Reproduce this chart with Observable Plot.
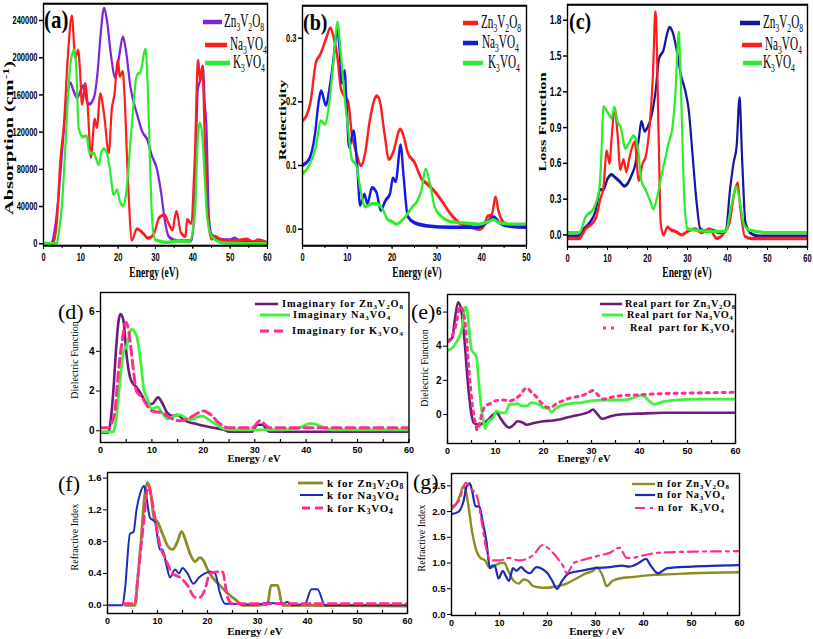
<!DOCTYPE html>
<html><head><meta charset="utf-8">
<script src="https://cdn.jsdelivr.net/npm/d3@7"></script>
<script src="https://cdn.jsdelivr.net/npm/@observablehq/plot@0.6"></script>
<style>
body{margin:0;background:#fff;}
#fig{position:relative;width:813px;height:639px;overflow:hidden;background:#fff;}
.t{position:absolute;white-space:nowrap;line-height:1;color:#000;}
.t sub{font-size:68%;vertical-align:-0.3em;line-height:0;}
.t sup{font-size:68%;vertical-align:0.5em;line-height:0;}
</style></head><body><div id="fig"></div><script>
// ---------- data: [energy (eV), value] ----------
const absZn = [[0,0],[2,0],[3,15000],[4,50000],[5,100000],[6,145000],[7.2,173000],[8,165000],[9,157000],[10,165000],[10.6,170000],[11.5,155000],[12.2,150000],[13.5,157000],[14.5,185000],[15.3,225000],[16.2,253000],[17,240000],[18,205000],[19.2,179000],[20,195000],[21.3,222000],[22,210000],[23.3,168000],[25,140000],[26.5,120000],[27.8,112000],[29,95000],[30.4,80000],[31.5,55000],[32.5,25000],[33.5,8000],[35,4000],[37,3000],[39.5,3000],[40.5,40000],[41.3,165000],[41.9,175000],[42.7,191000],[43.2,150000],[43.6,130000],[44.3,30000],[45,10000],[47,5000],[50,4000],[51.2,6000],[52.5,3000],[56,2000],[60,1000]];
const absNa = [[0,0],[2.5,0],[3.5,20000],[4.5,89000],[5.5,130000],[6.5,200000],[7.6,245000],[8.5,200000],[9.3,208000],[9.8,185000],[10.3,150000],[11.2,172000],[11.8,150000],[12.7,93000],[13.7,134000],[14.3,125000],[15.2,161000],[16.2,140000],[17.5,98000],[18.3,145000],[19,160000],[19.9,197000],[20.5,180000],[21.2,185000],[21.7,160000],[22.5,80000],[23.7,4000],[25,16000],[26.5,12000],[28,6000],[29.5,10000],[31,28000],[32.4,31000],[33.5,22000],[34.5,15000],[35.6,34500],[36.8,12000],[38,8000],[38.5,26000],[39.5,22000],[40.5,90000],[41.4,197000],[42,175000],[42.5,190000],[43.3,100000],[44,30000],[45,5000],[46,8000],[48,3000],[51,3000],[54.5,5000],[56,2000],[57.5,4000],[60,1000]];
const absK = [[0,0],[3.5,0],[4.2,15000],[4.9,39000],[5.8,100000],[6.8,175000],[8.1,208000],[8.7,195000],[9.4,125000],[10.5,115000],[11.5,116000],[12.3,98000],[13.5,97000],[14.8,85000],[15.5,98000],[16.1,102000],[17,97000],[17.8,80000],[18.8,53000],[19.7,58000],[20.5,45000],[21.3,41000],[22,50000],[23.5,120000],[25,181000],[26,185000],[27.3,209000],[28,160000],[28.5,90000],[29.2,20000],[30,4000],[31,3000],[33,1500],[36,3000],[39,2000],[40.5,30000],[41.3,110000],[41.9,130000],[42.5,118000],[43.2,70000],[43.8,30000],[45,8000],[48,1000],[60,0]];

const reflZn = [[0,0.17],[1,0.18],[1.8,0.2],[3,0.262],[4,0.275],[5.3,0.3],[6.2,0.316],[7,0.3],[7.8,0.27],[8.6,0.22],[9.4,0.209],[10.2,0.2],[11,0.15],[12,0.12],[13.1,0.1],[14,0.12],[15,0.17],[16.6,0.209],[17.3,0.2],[18.3,0.15],[19.3,0.11],[20.2,0.12],[21.8,0.157],[22.4,0.15],[23.5,0.12],[25,0.105],[26.5,0.08],[28,0.07],[30,0.055],[31.5,0.04],[33.5,0.02],[35,0.01],[37,0.005],[39.5,0],[40.5,0.005],[41.3,0.02],[42.2,0.022],[43.1,0.05],[43.7,0.03],[45,0.01],[47,0.005],[50,0.003]];
const reflNa = [[0,0.1],[1.5,0.11],[2.8,0.15],[3.6,0.2],[4.2,0.217],[5.2,0.195],[6,0.22],[6.8,0.26],[7.8,0.314],[8.3,0.28],[8.8,0.23],[9.4,0.249],[9.8,0.2],[10.4,0.129],[11.4,0.154],[12.2,0.1],[12.85,0.038],[13.8,0.055],[14.5,0.04],[15.5,0.065],[16.5,0.058],[17.5,0.03],[18.5,0.045],[19.5,0.055],[20.2,0.08],[20.8,0.075],[21.9,0.132],[22.6,0.08],[23.5,0.02],[25,0.01],[28,0.005],[33,0.003],[39,0.003],[41,0.01],[42.7,0.019],[44,0.01],[46,0.005],[50,0.003]];
const reflK = [[0,0.087],[1.5,0.1],[3,0.13],[4.1,0.17],[5,0.165],[6,0.2],[7,0.27],[7.8,0.325],[8.5,0.28],[9.5,0.2],[10.3,0.15],[11,0.11],[12,0.1],[13,0.06],[14,0.035],[15.5,0.04],[16.5,0.04],[18,0.03],[19,0.015],[20,0.012],[21,0.008],[23,0.02],[24.5,0.035],[25.7,0.045],[26.5,0.06],[27.5,0.094],[28.5,0.07],[29.5,0.035],[31,0.02],[33,0.012],[36,0.01],[39.5,0.008],[41.5,0.012],[42.5,0.015],[44,0.01],[47,0.008],[50,0.008]];

const lossZn = [[0,-0.01],[2.5,-0.01],[4,0.05],[5.5,0.1],[7,0.2],[8.2,0.38],[9,0.38],[10,0.47],[11,0.505],[12,0.48],[13,0.45],[14.2,0.41],[15,0.43],[16,0.5],[17,0.6],[17.8,0.8],[18.5,0.95],[19.3,0.87],[20,0.9],[21,1.0],[22,1.2],[22.9,1.48],[24,1.55],[25,1.7],[25.5,1.74],[26.3,1.7],[27.3,1.55],[28.3,1.35],[29.5,1.2],[30.3,1.05],[31.2,0.7],[32.2,0.3],[33.2,0.05],[34.5,0.03],[36,0.04],[38,0.02],[39.5,0.03],[40.7,0.4],[41.5,0.6],[42.3,0.75],[43,1.15],[43.7,0.6],[44.5,0.1],[46,0.01],[48,-0.01],[60,-0.01]];
const lossNa = [[0,-0.03],[3,-0.03],[4.5,0.05],[6,0.09],[7.2,0.15],[8.2,0.3],[9,0.4],[9.8,0.705],[10.5,0.6],[11,0.8],[11.8,1.06],[12.5,0.85],[13.2,0.55],[14,0.632],[14.7,0.53],[15.5,0.65],[16.3,0.75],[16.8,0.78],[17.8,0.458],[18.8,0.6],[19.5,0.65],[20.5,0.9],[21.3,1.3],[22,1.87],[22.8,0.8],[23.3,0.1],[24,0],[25,0.065],[26,0.04],[27,0.03],[28.5,0],[30,0.03],[32,0.05],[33.5,0.02],[35.5,0.05],[37.3,-0.03],[39,0.01],[40.5,0.1],[41.7,0.35],[42.5,0.435],[43.3,0.2],[44.3,-0.01],[46,-0.03],[60,-0.03]];
const lossK = [[0,0.02],[3,0.02],[4.5,0.15],[6.5,0.22],[8,0.4],[8.5,0.7],[9,1.076],[10,1.03],[11,0.98],[11.7,1.07],[12.5,0.95],[13.3,0.9],[14.5,0.725],[15.5,0.78],[16.5,0.83],[17.5,0.75],[18.5,0.45],[19.5,0.38],[20.5,0.3],[21.5,0.219],[22.3,0.3],[23.5,0.5],[24.5,0.65],[25.5,0.8],[26,0.85],[27,1.2],[27.8,1.7],[28.3,1.3],[29.2,0.3],[30,0.05],[32,0.04],[36,0.03],[39.5,0.03],[41,0.25],[42.2,0.4],[43,0.3],[44,0.1],[45.5,0.04],[50,0.02],[60,0.02]];

const imagZn = [[0,-0.1],[1.5,-0.1],[1.8,0.2],[2.5,2],[3,4],[3.5,5.5],[3.9,5.87],[4.5,5.5],[5,4],[5.5,3],[6,2.5],[7,2.2],[8,1.8],[9,1.4],[10,1.35],[11.2,1.68],[12,1.4],[13,0.9],[14,0.75],[15,0.8],[16,0.6],[17,0.45],[18.5,0.35],[20,0.25],[22,0.15],[24,0.05],[25,-0.05],[29.5,-0.05],[30.5,0.3],[31.5,0.3],[32.5,0],[33,-0.05],[60,-0.05]];
const imagNa = [[0,-0.05],[2.5,-0.05],[3,0.5],[3.8,2.5],[4.5,4],[5,4.2],[6,5.11],[7,4.8],[7.8,3.5],[8.5,2],[9,1.7],[10,1.1],[11,1.2],[12,0.9],[13,0.6],[14.5,0.75],[15.5,0.8],[16.5,0.65],[17.5,0.55],[19,0.7],[19.8,0.75],[21,0.55],[22,0.4],[24,0.1],[26,0.05],[30,0.05],[35,0.05],[38,0.1],[41,0.37],[43,0.2],[45,0.05],[60,0.05]];
const imagK = [[0,0.15],[1.5,0.15],[2,0.3],[2.8,1],[3.5,3],[4.2,4.5],[5,5.45],[5.5,5],[6.2,3.5],[7,2],[8,1.7],[9,1.3],[10,1.0],[12,0.9],[14,0.6],[15.5,0.5],[17,0.6],[19,0.9],[20,1.0],[21.5,0.8],[23,0.4],[25,0.15],[29.5,0.15],[31,0.5],[32.5,0.2],[33,0.15],[60,0.15]];

const realZn = [[0,4.25],[1,4.5],[1.5,5.5],[2.2,6.58],[2.8,6.2],[3.5,4.5],[4.2,2],[5,0],[5.5,-0.5],[6.5,-0.6],[7.5,-0.5],[8.5,-0.3],[9.5,0],[10.3,0.1],[11,-0.2],[12,-0.6],[12.8,-0.78],[13.8,-0.6],[14.6,-0.4],[15.5,-0.45],[16.5,-0.6],[18,-0.5],[20,-0.4],[22,-0.35],[24,-0.25],[26,-0.1],[28.5,0.05],[29.5,0.15],[30.3,0.29],[31,0.1],[32.2,-0.25],[34,-0.1],[36,0],[40,0.05],[45,0.1],[60,0.1]];
const realNa = [[0,3.76],[1,3.9],[2,4.3],[3,5],[3.7,6.29],[4,6.2],[4.5,5],[5,3.8],[5.5,3.6],[6,3.4],[6.5,2],[7,0.5],[7.5,-0.4],[7.8,-0.82],[8.5,-0.4],[9.5,-0.2],[10.2,0.2],[11,0.1],[12,0.1],[13,0.6],[14,0.6],[14.5,0.65],[15.5,0.5],[16.5,0.5],[17.5,0.7],[19,0.6],[20,0.4],[21,0.35],[21.7,0.15],[22.5,0.35],[24,0.55],[26,0.65],[28,0.7],[30,0.8],[33,0.85],[37,0.85],[39,1.0],[40.5,1.13],[42,0.8],[43,0.6],[45,0.75],[48,0.85],[52,0.9],[60,0.9]];
const realK = [[0,4.3],[1,4.6],[1.8,5.3],[2.6,6.33],[3.2,6.1],[3.8,5],[4.5,2.5],[5.2,0.5],[5.8,-0.5],[6.2,-0.92],[6.7,-0.5],[7.3,0.2],[8,0.5],[9,0.65],[10,0.8],[11.5,0.85],[13,0.8],[14,0.9],[15,1.1],[16.5,1.56],[17.5,1.3],[18.3,1.1],[19.5,0.7],[20.5,0.45],[21.5,0.4],[22.5,0.6],[24,0.8],[26,1.0],[28,1.1],[29.5,1.3],[30.3,1.4],[31.5,1.1],[32.5,0.9],[34,1.0],[36,1.1],[40,1.15],[43,1.2],[50,1.25],[60,1.3]];

const kZn = [[3.5,0],[5.5,0],[6,0.3],[6.7,0.8],[7.3,1.3],[8,1.545],[8.7,1.4],[9.3,1.1],[10,1.05],[11,0.9],[12,0.75],[13,0.7],[14,0.8],[14.8,0.93],[15.7,0.8],[16.5,0.65],[17.5,0.55],[18.5,0.6],[19.3,0.55],[20,0.45],[21,0.35],[22.5,0.25],[24,0.15],[26,0.05],[27,0],[30,0],[32,0.01],[32.7,0.25],[34,0.25],[35,0],[60,-0.01]];
const kNa = [[0,0],[3,0],[3.5,0.2],[4.5,0.9],[5.2,0.92],[5.8,1.2],[6.5,1.4],[7.3,1.5],[7.8,1.35],[8.5,1.1],[9.5,1.05],[10,0.85],[10.5,0.7],[11,0.7],[11.8,0.5],[12.5,0.35],[13.5,0.45],[14.3,0.4],[15,0.47],[16,0.4],[17.2,0.27],[18.3,0.35],[19.5,0.4],[20.5,0.42],[21.5,0.4],[22.5,0.15],[23.5,0.02],[25,0.02],[27,0.01],[30,0.01],[32,0.03],[35,0.02],[36,0.04],[37,0],[39.5,0.02],[40.8,0.2],[42,0.2],[43.5,0],[60,0]];
const kK = [[3.3,0.02],[5.5,0.02],[6,0.3],[7,0.9],[8.2,1.5],[8.8,1.35],[9.5,1.1],[10.5,0.75],[11.5,0.6],[13,0.4],[14.5,0.35],[16,0.25],[17.5,0.1],[18.5,0.1],[19.5,0.2],[20.5,0.4],[22,0.42],[23,0.42],[24,0.1],[25,0.02],[60,0.02]];

const nZn = [[0,2.05],[1,2.15],[1.7,2.3],[2.5,2.5],[3,2.4],[3.7,2.0],[4.3,1.6],[5,1.3],[6,1.1],[7,1.05],[8,0.9],[9,0.95],[10.3,1.0],[11,1.0],[11.8,0.85],[13,0.65],[14,0.6],[15,0.68],[16,0.65],[17,0.55],[19,0.52],[20,0.52],[22,0.55],[24,0.6],[26,0.7],[28,0.8],[29.5,0.85],[30.2,0.92],[31.5,0.75],[32.3,0.55],[33.5,0.65],[35,0.7],[38,0.73],[42,0.77],[45,0.78],[50,0.8],[60,0.82]];
const nNa = [[0,1.95],[1.5,2.0],[2.5,2.2],[3.2,2.5],[3.8,2.55],[4.3,2.4],[5,2.1],[5.8,2.1],[6.5,1.8],[7.3,1.4],[8,0.9],[8.5,0.95],[9,0.95],[9.8,0.7],[10.7,0.85],[11.3,0.75],[12,0.65],[12.8,0.9],[13.5,0.85],[14.5,0.92],[15.3,0.85],[16.3,0.8],[17.7,0.92],[19,0.88],[20,0.8],[21,0.65],[22,0.5],[23,0.65],[24.5,0.8],[27,0.85],[30,0.9],[33,0.92],[35.5,0.95],[37,0.93],[39,1.0],[40.5,1.08],[41.5,0.95],[43,0.8],[45,0.9],[50,0.93],[60,0.96]];
const nK = [[0,2.1],[1.5,2.2],[3,2.56],[4,2.45],[5.3,2.3],[6.3,1.8],[7.2,1.3],[8.2,1.05],[10,1.05],[12,1.1],[14,1.05],[17,1.15],[19,1.35],[20,1.3],[22,1.1],[23.5,0.9],[24,0.8],[25.5,1.0],[27,1.05],[31,1.15],[33,1.2],[35,1.3],[36.5,1.1],[37.5,1.1],[40,1.15],[43,1.2],[50,1.22],[60,1.23]];

// tick values
const xTicks60 = [0,10,20,30,40,50,60];
const xTicks50 = [0,10,20,30,40,50];
const absTicks = [0,40000,80000,120000,160000,200000,240000];
const reflTicks = [0,0.1,0.2,0.3];
const lossTicks = [0,0.3,0.6,0.9,1.2,1.5,1.8];
const dielTicks = [0,2,4,6];
const kTicks = [0,0.4,0.8,1.2,1.6];
const nTicks = [0,0.5,1.0,1.5,2.0,2.5];

// ---------- drawing ----------
const fig = document.getElementById("fig");
const SERIF = '"Liberation Serif","Times New Roman",serif';
const SANS = '"Liberation Sans",Arial,sans-serif';

function addText(html, x, y, o = {}) {
  const d = document.createElement("div");
  d.className = "t";
  d.innerHTML = html;
  d.style.left = x + "px"; d.style.top = y + "px";
  d.style.fontSize = (o.size || 11) + "px";
  d.style.fontWeight = o.weight || "bold";
  d.style.fontFamily = o.family || SERIF;
  if (o.ls) d.style.letterSpacing = o.ls + "px";
  const sy = o.sy || 1;
  if (o.left) d.style.transform = `translateY(-50%) scaleY(${sy})`;
  else d.style.transform = `translate(-50%,-50%) scaleY(${sy})` + (o.rotate ? " rotate(-90deg)" : "");
  fig.appendChild(d);
}
function addSwatch(x0, x1, y, color, width, dash) {
  const ns = "http://www.w3.org/2000/svg";
  const s = document.createElementNS(ns, "svg");
  s.setAttribute("width", x1 - x0); s.setAttribute("height", 12);
  s.style.position = "absolute"; s.style.left = x0 + "px"; s.style.top = (y - 6) + "px";
  const l = document.createElementNS(ns, "line");
  l.setAttribute("x1", 0); l.setAttribute("x2", x1 - x0); l.setAttribute("y1", 6); l.setAttribute("y2", 6);
  l.setAttribute("stroke", color); l.setAttribute("stroke-width", width);
  if (dash) l.setAttribute("stroke-dasharray", dash);
  s.appendChild(l); fig.appendChild(s);
}

function panel(p) {
  const s = p.sy || 1;
  const [L, T, R, B] = p.frame;
  const ml = 50, mr = 6, mt = 4, mb = 18;
  const fw = R - L, fh = (B - T) / s;
  const xStep = p.xTicks[1] - p.xTicks[0];
  const xMinor = d3.range(p.xDomain[0], p.xDomain[1] + 1e-9, xStep / 2);
  const tickFont = {fontWeight: "bold", fontFamily: p.tickFamily};
  const marks = [];
  if (p.inward) {
    marks.push(Plot.tickX(xMinor, {x: d => d, insetTop: fh - 3, stroke: "#000", strokeWidth: 1.2}));
    marks.push(Plot.axisX({ticks: p.xTicks, tickSize: 0, tickPadding: 4, tickFormat: d => String(d), label: null,
      fontSize: p.xFont, ...tickFont}));
  } else {
    marks.push(Plot.axisX({ticks: xMinor, tickSize: 3 / s, tickFormat: () => "", label: null}));
    marks.push(Plot.axisX({ticks: p.xTicks, tickSize: 4 / s, tickPadding: 2, tickFormat: d => String(d), label: null,
      fontSize: p.xFont, ...tickFont}));
  }
  marks.push(Plot.axisY({ticks: p.yTicks, tickSize: 4, tickPadding: 2, tickFormat: p.yFmt, label: null,
    fontSize: p.yFont, ...tickFont}));
  for (const ser of p.series) {
    marks.push(Plot.line(ser.data, {x: d => d[0], y: d => d[1], stroke: ser.color, strokeWidth: ser.width,
      strokeDasharray: ser.dash, curve: "monotone-x", clip: true, strokeLinejoin: "round"}));
  }
  marks.push(Plot.frame({stroke: "#000", strokeWidth: p.frameW || 1.4}));
  const svg = Plot.plot({
    width: fw + ml + mr, height: fh + mt + mb,
    marginLeft: ml, marginRight: mr, marginTop: mt, marginBottom: mb,
    x: {domain: p.xDomain}, y: {domain: p.yDomain},
    style: {background: "transparent", color: "#000", overflow: "visible", fontFamily: p.tickFamily, fontWeight: "bold"},
    marks
  });
  svg.style.position = "absolute";
  svg.style.left = (L - ml) + "px";
  svg.style.top = (T - mt * s) + "px";
  if (s !== 1) { svg.style.transformOrigin = "0 0"; svg.style.transform = `scaleY(${s})`; }
  fig.appendChild(svg);
}

const PURPLE = "#7d26d9", RED = "#ff1c1c", GREEN = "#2cec2c", BLUE = "#1717e6", NAVY = "#14189c";
const DPURPLE = "#6e1b7e", LGREEN = "#3ef23e", PINK = "#ff2d8c", OLIVE = "#8d8c22", KBLUE = "#1c2bb8";
const SY = 1.5;
const fmt1 = d => d.toFixed(1), fmt0 = d => String(d);

// (a)
panel({frame: [43, 3, 267, 245], sy: SY, xDomain: [0, 60], yDomain: [-2150, 258000],
  xTicks: xTicks60, yTicks: absTicks, yFmt: fmt0, xFont: 7.5, yFont: 7.5, tickFamily: SANS,
  series: [{data: absZn, color: PURPLE, width: 2.2}, {data: absNa, color: RED, width: 2.2}, {data: absK, color: GREEN, width: 2.2}]});
// (b)
panel({frame: [302, 5, 526, 245], sy: SY, xDomain: [0, 50], yDomain: [-0.026, 0.351],
  xTicks: xTicks50, yTicks: reflTicks, yFmt: fmt1, xFont: 7.5, yFont: 7.5, tickFamily: SANS,
  series: [{data: reflZn, color: RED, width: 2.4}, {data: reflNa, color: BLUE, width: 2.4}, {data: reflK, color: GREEN, width: 2.2}]});
// (c)
panel({frame: [567, 4, 807, 246], sy: SY, xDomain: [0, 60], yDomain: [-0.099, 1.93],
  xTicks: xTicks60, yTicks: lossTicks, yFmt: fmt1, xFont: 7.5, yFont: 8.5, tickFamily: SANS,
  series: [{data: lossZn, color: NAVY, width: 2.2}, {data: lossNa, color: RED, width: 2.2}, {data: lossK, color: GREEN, width: 2.2}]});
// (d)
panel({frame: [100, 292, 408.5, 442], inward: true, xDomain: [0, 60], yDomain: [-0.59, 6.96],
  xTicks: xTicks60, yTicks: dielTicks, yFmt: fmt0, xFont: 9, yFont: 10, tickFamily: SANS,
  series: [{data: imagZn, color: DPURPLE, width: 2.6}, {data: imagNa, color: LGREEN, width: 2.8}, {data: imagK, color: PINK, width: 3, dash: "9,5"}]});
// (e)
panel({frame: [447, 294, 735, 443], inward: true, xDomain: [0, 60], yDomain: [-1.70, 7.03],
  xTicks: xTicks60, yTicks: dielTicks, yFmt: fmt0, xFont: 9, yFont: 10, tickFamily: SANS,
  series: [{data: realZn, color: DPURPLE, width: 2.6}, {data: realNa, color: LGREEN, width: 2.8}, {data: realK, color: PINK, width: 3, dash: "3,5"}]});
// (f)
panel({frame: [107, 472, 407, 613], inward: true, xDomain: [0, 60], yDomain: [-0.104, 1.67],
  xTicks: xTicks60, yTicks: kTicks, yFmt: fmt1, xFont: 9, yFont: 9.5, tickFamily: SANS,
  series: [{data: kZn, color: OLIVE, width: 2.8}, {data: kNa, color: KBLUE, width: 2}, {data: kK, color: PINK, width: 2.8, dash: "8,5"}]});
// (g)
panel({frame: [451, 473, 739, 615], inward: true, xDomain: [0, 60], yDomain: [-0.02, 2.74],
  xTicks: xTicks60, yTicks: nTicks, yFmt: fmt1, xFont: 9, yFont: 9.5, tickFamily: SANS,
  series: [{data: nZn, color: OLIVE, width: 2.4}, {data: nNa, color: KBLUE, width: 2.2}, {data: nK, color: PINK, width: 2.2, dash: "10,5,3,5"}]});

// ---------- panel letters ----------
addText("(a)", 44, 20, {size: 21, left: true, sy: 1.2});
addText("(b)", 303, 22, {size: 20, left: true, sy: 1.2});
addText("(c)", 569, 21, {size: 20, left: true, sy: 1.2});
addText("(d)", 58, 312, {size: 22, left: true, weight: "normal"});
addText("(e)", 411, 312, {size: 22, left: true, weight: "normal"});
addText("(f)", 58, 484, {size: 22, left: true, weight: "normal"});
addText("(g)", 413, 482, {size: 22, left: true, weight: "normal"});

// ---------- axis titles ----------
addText("Absorption (cm<sup>-1</sup>)", 8.5, 138, {size: 13.5, rotate: true, sy: SY});
addText("Reflectivity", 281.5, 120, {size: 11, rotate: true, sy: SY});
addText("Loss Function", 542, 122, {size: 11, rotate: true, sy: SY});
addText("Energy (eV)", 154, 273, {size: 9.5, sy: 1.6});
addText("Energy (eV)", 417, 273, {size: 9.5, sy: 1.6});
addText("Energy (eV)", 687, 273, {size: 9.5, sy: 1.6});
addText("Dielectric Function", 75, 360, {size: 10, rotate: true, weight: "normal"});
addText("Dielectric Function", 425, 368, {size: 10, rotate: true, weight: "normal"});
addText("Refractive Index", 75, 537, {size: 10, rotate: true, weight: "normal"});
addText("Refractive Index", 422, 538, {size: 10, rotate: true, weight: "normal"});
addText("Energy / eV", 254, 459, {size: 10.5});
addText("Energy / eV", 584, 459, {size: 10.5});
addText("Energy / eV", 255, 631, {size: 11});
addText("Energy / eV", 597, 631, {size: 11});

// ---------- legends ----------
const ZN = "Zn<sub>3</sub>V<sub>2</sub>O<sub>8</sub>", NA = "Na<sub>3</sub>VO<sub>4</sub>", K = "K<sub>3</sub>VO<sub>4</sub>";
function leg(x0, x1, y, color, w, dash, html, tx, size, o = {}) {
  addSwatch(x0, x1, y, color, w, dash);
  addText(html, tx, y, Object.assign({size, left: true}, o));
}
// (a)
leg(203, 222, 21.5, PURPLE, 4.5, null, ZN, 224, 11.2, {sy: 1.6, weight: "normal"});
leg(205, 227, 45, RED, 4.5, null, NA, 230, 11.2, {sy: 1.6, weight: "normal"});
leg(205, 230, 63, GREEN, 4.5, null, K, 233, 11.2, {sy: 1.6, weight: "normal"});
// (b)
leg(463, 478, 23, RED, 4.5, null, ZN, 481, 11.2, {sy: 1.6, weight: "normal"});
leg(463, 478, 43, BLUE, 4.5, null, NA, 482, 11.2, {sy: 1.6, weight: "normal"});
leg(463, 483, 63, GREEN, 4.5, null, K, 488, 11.2, {sy: 1.6, weight: "normal"});
// (c)
leg(740, 760, 23, NAVY, 4.5, null, ZN, 763, 11.2, {sy: 1.6, weight: "normal"});
leg(742, 762, 45, RED, 4.5, null, NA, 765, 11.2, {sy: 1.6, weight: "normal"});
leg(743, 762, 63, GREEN, 4.5, null, K, 763, 11.2, {sy: 1.6, weight: "normal"});
// (d)
leg(255, 278, 304, DPURPLE, 2.6, null, "Imaginary for " + ZN, 282, 10.3, {ls: 0.9});
leg(260, 290, 315, LGREEN, 3, null, "Imaginary " + NA, 293, 10.3, {ls: 0.9});
leg(260, 287, 331, PINK, 3, "9,5", "Imaginary for " + K, 292, 10.3, {ls: 0.9});
// (e)
leg(600, 622, 304, DPURPLE, 2.6, null, "Real part for " + ZN, 625, 10.3, {ls: 0.6});
leg(602, 623, 315, LGREEN, 3, null, "Real part for " + NA, 627, 10.3, {ls: 0.6});
leg(603, 618, 328, PINK, 3, "3,5", "Real&nbsp; part for " + K, 630, 10.3, {ls: 0.6});
// (f)
leg(298, 323, 483, OLIVE, 2.8, null, "k for " + ZN, 327, 11, {ls: 0.8});
leg(300, 323, 495, KBLUE, 2, null, "k for " + NA, 327, 11, {ls: 0.8});
leg(302, 323, 508, PINK, 2.8, "8,5", "k for " + K, 327, 11, {ls: 0.8});
// (g)
leg(632, 655, 484, OLIVE, 2.4, null, "n for " + ZN, 657, 10.3, {ls: 0.8});
leg(635, 655, 495, KBLUE, 2.2, null, "n for " + NA, 657, 10.3, {ls: 0.8});
leg(635, 655, 508, PINK, 2.2, "10,5,3,5", "n for&nbsp; " + K, 658, 10.3, {ls: 0.8});
</script></body></html>
